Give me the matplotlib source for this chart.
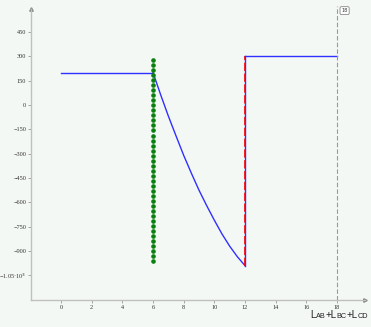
import numpy as np
import matplotlib.pyplot as plt
from matplotlib.offsetbox import TextArea, HPacker, AnnotationBbox

# data
seg1_x = [0, 6]
seg1_y = [200, 200]
curve_x = [6, 6.5, 7, 7.5, 8, 8.5, 9, 9.5, 10, 10.5, 11, 11.5, 12]
curve_y = [200, 63, -68, -190, -310, -420, -525, -620, -710, -795, -870, -935, -990]
jump_x = [12, 12]
jump_y = [-990, 300]
seg3_x = [12, 18]
seg3_y = [300, 300]
marker_x = 6
marker_y = [277, -980]
end_x = 18

xticks = [0, 2, 4, 6, 8, 10, 12, 14, 16, 18]
yticks = [450, 300, 150, 0, -150, -300, -450, -600, -750, -900, -1050]
ylabels = ['450', '300', '150', '0', '\u2212150', '\u2212300', '\u2212450',
           '\u2212600', '\u2212750', '\u2212900', '\u22121.05\u00b710$^3$']

bg = '#f4f8f5'
fig = plt.figure(figsize=(3.71, 3.27), dpi=100, facecolor=bg)
ax = fig.add_axes([31/371, 27/327, 334/371, 291/327])
ax.set_facecolor(bg)

ax.plot(seg1_x, seg1_y, color='#3030ff', lw=1)
ax.plot(curve_x, curve_y, color='#3030ff', lw=1)
ax.plot(jump_x, jump_y, color='#3030ff', lw=1)
ax.plot(jump_x, jump_y, color='#ff0000', lw=1.2, ls=(0, (5, 1.5)))
ax.plot(seg3_x, seg3_y, color='#3030ff', lw=1)
ys = np.arange(marker_y[0], marker_y[1], -31)
ax.plot([marker_x] * len(ys), ys, ls='none', marker='o', ms=2.3, color='#0a8010')
ax.axvline(end_x, color='#999999', lw=0.8, ls=(0, (4, 2)), ymax=1.01, clip_on=False)

ax.set_xlim(-1.96, 19.83)
ax.set_ylim(-1202, 592)
ax.spines['top'].set_visible(False)
ax.spines['right'].set_visible(False)
for s in ['left', 'bottom']:
    ax.spines[s].set_color('#c0c0c0')
    ax.spines[s].set_linewidth(1)
ax.set_xticks(xticks)
ax.set_yticks(yticks)
ax.set_yticklabels(ylabels)
ax.tick_params(length=2, width=0.6, color='#999999', labelsize=4.5, pad=1.5,
               labelcolor='#333333')
for lab in ax.get_xticklabels() + ax.get_yticklabels():
    lab.set_family('Liberation Serif')

# arrow heads at axis ends
ax.plot(1, 0, '>', color='#888888', ms=2.5, transform=ax.transAxes, clip_on=False)
ax.plot(0, 1, '^', color='#888888', ms=2.5, transform=ax.transAxes, clip_on=False)

# marker label at top
ax.text(18.5, 582, '18', fontsize=3.5, color='#333333', ha='center', va='center',
        bbox=dict(boxstyle='round,pad=0.3', fc='white', ec='#888888', lw=0.6),
        clip_on=False)

# axis label with small caps
parts = []
for big, small in [('L', 'AB'), ('+L', 'BC'), ('+L', 'CD')]:
    parts.append(TextArea(big, textprops=dict(size=7, color='#222222',
                                              family='Liberation Sans')))
    parts.append(TextArea(small, textprops=dict(size=5.2, color='#222222',
                                                family='Liberation Sans')))
box = HPacker(children=parts, align='baseline', pad=0, sep=0)
ab = AnnotationBbox(box, (339.5/371, (327 - 315.5)/327), xycoords='figure fraction',
                    frameon=False, box_alignment=(0.5, 0.5), pad=0)
fig.add_artist(ab)

fig.savefig('out.png', dpi=100, facecolor=bg)
